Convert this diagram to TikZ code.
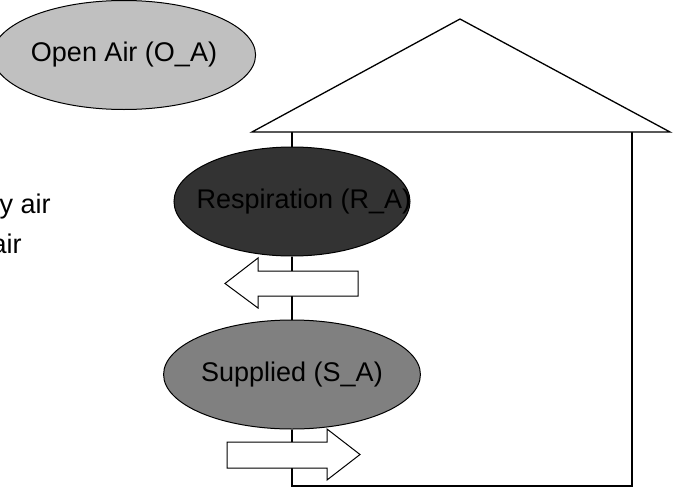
\documentclass[tikz,border=0pt]{standalone}
\usepackage{fontspec}
\setmainfont{Liberation Sans}
\usetikzlibrary{shapes.geometric,positioning}

\definecolor{openair}{HTML}{C0C0C0}
\definecolor{respair}{HTML}{333333}
\definecolor{suppair}{HTML}{808080}

\tikzset{
  zone/.style={draw, ellipse, line width=1pt, minimum width=232pt, minimum height=109pt, inner sep=0pt},
  blockarrow/.style={draw, fill=white, line width=1pt},
}

\begin{document}
\begin{tikzpicture}[x=1pt, y=-1pt, font=\fontsize{27}{32}\selectfont, line width=1.3pt]
\useasboundingbox (0,0) rectangle (675,490);
% house
\coordinate (apex) at (460,19);
\coordinate (eavel) at (252,132);
\coordinate (eaver) at (670,132);
\coordinate (wallnw) at (292,132);
\coordinate (wallne) at (632,132);
\coordinate (wallsw) at (292,486);
\coordinate (wallse) at (632,486);
% air zones
\node[zone, fill=openair] (oa) at (124,55) {Open Air (O\_A)};
\node[zone, fill=respair, minimum width=236pt] (ra) at (292,201.5) {};
\node[inner sep=0pt] (ratext) at (304,201.5) {Respiration (R\_A)};
\node[zone, fill=suppair] (sa) at (292,374.5) {Supplied (S\_A)};
% cut-off labels
\node[anchor=base west, inner sep=0pt] (flowa) at (-1,213) {y air};
\node[anchor=base west, inner sep=0pt] (flowb) at (-9,253) {air};
% walls and roof
\draw (wallnw) -- (wallnw |- ra.north);
\draw (ra) -- (sa);
\draw (sa) -- (wallsw) -- (wallse) -- (wallne);
\draw[fill=white] (eavel) -- (apex) -- (eaver) -- cycle;
% flow arrows
\draw[blockarrow] (358,271) -- (258,271) -- (258,258) -- (225,283.5) -- (258,308) -- (258,296) -- (358,296) -- cycle;
\draw[blockarrow] (227,442) -- (327,442) -- (327,429) -- (360,454.5) -- (327,480) -- (327,468) -- (227,468) -- cycle;
\end{tikzpicture}
\end{document}
